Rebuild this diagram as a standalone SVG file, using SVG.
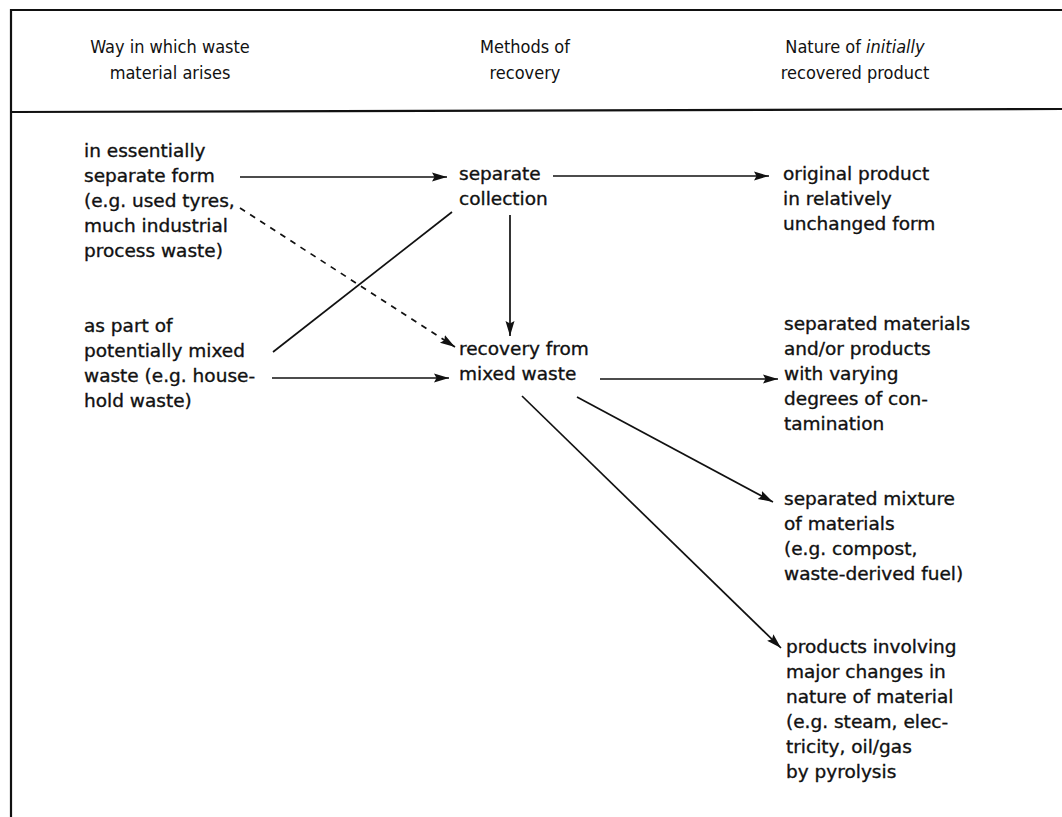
<svg xmlns="http://www.w3.org/2000/svg" width="1062" height="817" viewBox="0 0 1062 817">
<style>
.t{font-family:"DejaVu Sans","Liberation Sans",sans-serif;font-size:18.5px;fill:#111;stroke:#111;stroke-width:0.35}
.h{font-family:"DejaVu Sans Condensed","Liberation Sans",sans-serif;font-size:18px;fill:#111;text-anchor:middle}
.c{stroke:#111;stroke-width:1.7;fill:none}
.f{stroke:#111;stroke-width:2.2;fill:none}
</style>
<defs>
<marker id="a" markerUnits="userSpaceOnUse" markerWidth="18" markerHeight="12" refX="15" refY="6" orient="auto">
<path d="M0,1.5 L15,6 L0,10.5 L2.5,6 Z" fill="#111"/>
</marker>
</defs>
<rect width="1062" height="817" fill="#fff"/>
<g id="frame">
<path class="f" d="M1062,10 L11,10 L11,817"/>
<path class="f" d="M11,112 L1062,109"/>
</g>
<g id="headers">
<text class="h" x="170" y="53">Way in which waste</text>
<text class="h" x="170" y="79">material arises</text>
<text class="h" x="525" y="53">Methods of</text>
<text class="h" x="525" y="79">recovery</text>
<text class="h" x="855" y="53">Nature of <tspan font-style="italic">initially</tspan></text>
<text class="h" x="855" y="79">recovered product</text>
</g>
<g id="src-separate">
<text class="t" x="84" y="157">in essentially</text>
<text class="t" x="84" y="182">separate form</text>
<text class="t" x="84" y="207">(e.g. used tyres,</text>
<text class="t" x="84" y="232">much industrial</text>
<text class="t" x="84" y="257">process waste)</text>
</g>
<g id="src-mixed">
<text class="t" x="84" y="332">as part of</text>
<text class="t" x="84" y="357">potentially mixed</text>
<text class="t" x="84" y="382">waste (e.g. house-</text>
<text class="t" x="84" y="407">hold waste)</text>
</g>
<g id="separate-collection">
<text class="t" x="459" y="180">separate</text>
<text class="t" x="459" y="205">collection</text>
</g>
<g id="recovery-mixed">
<text class="t" x="459" y="355">recovery from</text>
<text class="t" x="459" y="380">mixed waste</text>
</g>
<g id="original-product">
<text class="t" x="783" y="180">original product</text>
<text class="t" x="783" y="205">in relatively</text>
<text class="t" x="783" y="230">unchanged form</text>
</g>
<g id="separated-materials">
<text class="t" x="784" y="330">separated materials</text>
<text class="t" x="784" y="355">and/or products</text>
<text class="t" x="784" y="380">with varying</text>
<text class="t" x="784" y="405">degrees of con-</text>
<text class="t" x="784" y="430">tamination</text>
</g>
<g id="separated-mixture">
<text class="t" x="784" y="505">separated mixture</text>
<text class="t" x="784" y="530">of materials</text>
<text class="t" x="784" y="555">(e.g. compost,</text>
<text class="t" x="784" y="580">waste-derived fuel)</text>
</g>
<g id="major-changes">
<text class="t" x="786" y="653">products involving</text>
<text class="t" x="786" y="678">major changes in</text>
<text class="t" x="786" y="703">nature of material</text>
<text class="t" x="786" y="728">(e.g. steam, elec-</text>
<text class="t" x="786" y="753">tricity, oil/gas</text>
<text class="t" x="786" y="778">by pyrolysis</text>
</g>
<g id="connectors">
<line class="c" x1="240" y1="177" x2="447" y2="177" marker-end="url(#a)"/>
<line class="c" x1="553" y1="176" x2="769" y2="176" marker-end="url(#a)"/>
<line class="c" x1="240" y1="208" x2="455" y2="347" stroke-dasharray="6,6" marker-end="url(#a)"/>
<line class="c" x1="273" y1="352" x2="452" y2="212"/>
<line class="c" x1="510" y1="215" x2="510" y2="336" marker-end="url(#a)"/>
<line class="c" x1="272" y1="378" x2="449" y2="378" marker-end="url(#a)"/>
<line class="c" x1="600" y1="379" x2="778" y2="379" marker-end="url(#a)"/>
<line class="c" x1="577" y1="397" x2="773" y2="502" marker-end="url(#a)"/>
<line class="c" x1="522" y1="396" x2="781" y2="648" marker-end="url(#a)"/>
</g>
</svg>
